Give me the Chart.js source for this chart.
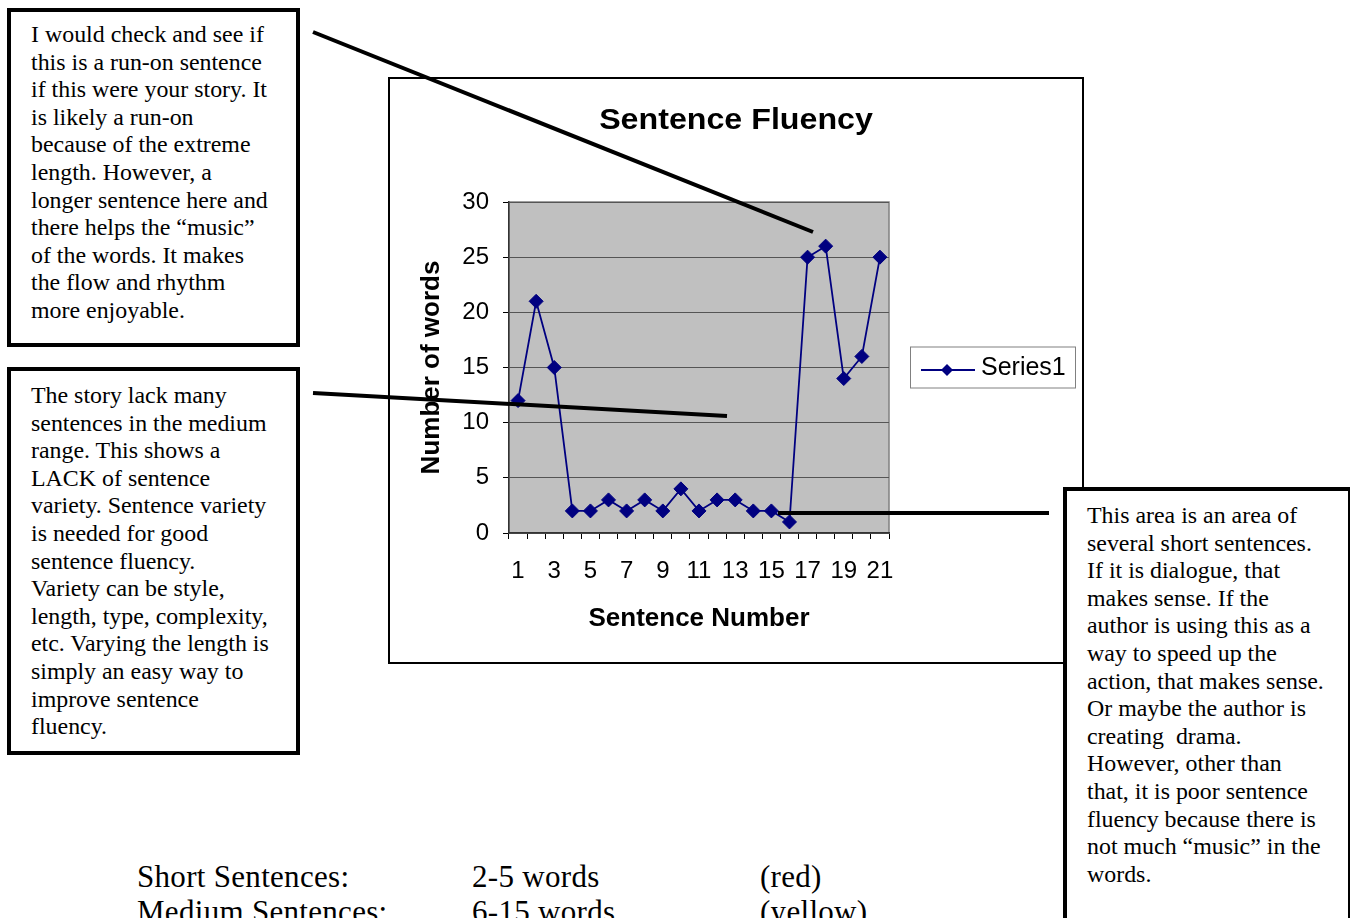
<!DOCTYPE html>
<html>
<head>
<meta charset="utf-8">
<script src="https://cdn.jsdelivr.net/npm/chart.js@4.4.1/dist/chart.umd.min.js"></script>
<style>
html,body{margin:0;padding:0;background:#fff;}
body{width:1351px;height:918px;overflow:hidden;position:relative;font-family:"Liberation Serif","Times New Roman",serif;color:#000;}
#chartBorder{position:absolute;left:388px;top:77px;width:696px;height:587px;box-sizing:border-box;border:2px solid #000;background:#fff;}
#chartWrap{position:absolute;left:389px;top:78px;width:694px;height:585px;}
.note{position:absolute;background:#fff;box-sizing:border-box;border:4px solid #000;font-size:23.9px;line-height:27.6px;white-space:nowrap;}
#note1{left:7px;top:8px;width:293px;height:339px;padding:9px 0 0 20px;}
#note2{left:7px;top:367px;width:293px;height:388px;padding:11px 0 0 20px;}
#note3{left:1063px;top:487px;width:287px;height:460px;padding:11px 0 0 20px;border-right-width:2px;}
#lines{position:absolute;left:0;top:0;width:1351px;height:918px;pointer-events:none;}
.legendRow{position:absolute;font-size:31px;line-height:35px;letter-spacing:0.3px;white-space:nowrap;}
</style>
</head>
<body>
<div id="chartBorder"></div>
<div id="chartWrap"><canvas id="c"></canvas></div>

<div class="note" id="note1">I would check and see if<br>this is a run-on sentence<br>if this were your story. It<br>is likely a run-on<br>because of the extreme<br>length. However, a<br>longer sentence here and<br>there helps the “music”<br>of the words. It makes<br>the flow and rhythm<br>more enjoyable.</div>

<div class="note" id="note2">The story lack many<br>sentences in the medium<br>range. This shows a<br>LACK of sentence<br>variety. Sentence variety<br>is needed for good<br>sentence fluency.<br>Variety can be style,<br>length, type, complexity,<br>etc. Varying the length is<br>simply an easy way to<br>improve sentence<br>fluency.</div>

<div class="note" id="note3">This area is an area of<br>several short sentences.<br>If it is dialogue, that<br>makes sense. If the<br>author is using this as a<br>way to speed up the<br>action, that makes sense.<br>Or maybe the author is<br>creating&nbsp; drama.<br>However, other than<br>that, it is poor sentence<br>fluency because there is<br>not much “music” in the<br>words.</div>

<div class="legendRow" style="left:137px;top:859px;">Short Sentences:</div>
<div class="legendRow" style="left:472px;top:859px;">2-5 words</div>
<div class="legendRow" style="left:760px;top:859px;">(red)</div>
<div class="legendRow" style="left:137px;top:894px;">Medium Sentences:</div>
<div class="legendRow" style="left:472px;top:894px;">6-15 words</div>
<div class="legendRow" style="left:760px;top:894px;">(yellow)</div>

<svg id="lines" width="1351" height="918">
  <line x1="313" y1="32" x2="813" y2="232" stroke="#000" stroke-width="4"/>
  <line x1="313" y1="393" x2="727" y2="416" stroke="#000" stroke-width="4"/>
  <line x1="778" y1="513" x2="1049" y2="513" stroke="#000" stroke-width="4"/>
</svg>

<script>
// ---- data ----
const sentenceNumbers = ['1','2','3','4','5','6','7','8','9','10','11','12','13','14','15','16','17','18','19','20','21'];
const wordCounts = [12,21,15,2,2,3,2,3,2,4,2,3,3,2,2,1,25,26,14,16,25];
const yTickMin = 0;
const yTickMax = 30;
const yTickStep = 5;
const seriesName = 'Series1';
const chartTitle = 'Sentence Fluency';
const xAxisTitle = 'Sentence Number';
const yAxisTitle = 'Number of words';

const SANS = '"Liberation Sans", Arial, sans-serif';
const NAVY = '#000080';

const plotBg = {
  id: 'plotBg',
  beforeDraw(chart) {
    const {ctx, chartArea: a} = chart;
    ctx.save();
    ctx.fillStyle = '#C0C0C0';
    ctx.fillRect(a.left, a.top, a.right - a.left, a.bottom - a.top);
    ctx.strokeStyle = '#808080';
    ctx.lineWidth = 1.5;
    ctx.strokeRect(a.left, a.top, a.right - a.left, a.bottom - a.top);
    ctx.restore();
  }
};

const centeredTitle = {
  id: 'centeredTitle',
  afterDraw(chart, args, opts) {
    const ctx = chart.ctx;
    ctx.save();
    ctx.fillStyle = '#000';
    ctx.font = 'bold 29px ' + SANS;
    ctx.textAlign = 'center';
    ctx.textBaseline = 'middle';
    ctx.translate(chart.width / 2, 43);
    ctx.scale(1.11, 1);
    ctx.fillText(opts.text, 0, 0);
    ctx.restore();
  }
};

const boxLegend = {
  id: 'boxLegend',
  afterDraw(chart) {
    const {ctx, chartArea: a} = chart;
    const ds = chart.data.datasets[0];
    const left = a.right + 21, w = 165, h = 41;
    const cy = (a.top + a.bottom) / 2 - 0.5;
    const top = cy - h / 2;
    ctx.save();
    ctx.fillStyle = '#fff';
    ctx.fillRect(left, top, w, h);
    ctx.strokeStyle = '#808080';
    ctx.lineWidth = 1;
    ctx.strokeRect(left + 0.5, top + 0.5, w, h);
    ctx.strokeStyle = ds.borderColor;
    ctx.lineWidth = 2;
    ctx.beginPath();
    ctx.moveTo(left + 11, cy + 3);
    ctx.lineTo(left + 65, cy + 3);
    ctx.stroke();
    ctx.fillStyle = ds.borderColor;
    ctx.beginPath();
    ctx.moveTo(left + 37, cy - 3); ctx.lineTo(left + 43, cy + 3); ctx.lineTo(left + 37, cy + 9); ctx.lineTo(left + 31, cy + 3); ctx.closePath();
    ctx.fill();
    ctx.fillStyle = '#000';
    ctx.font = '25px ' + SANS;
    ctx.textBaseline = 'middle';
    ctx.textAlign = 'left';
    ctx.fillText(ds.label, left + 71, cy + 1);
    ctx.restore();
  }
};

new Chart(document.getElementById('c'), {
  type: 'line',
  data: {
    labels: sentenceNumbers,
    datasets: [{
      label: seriesName,
      data: wordCounts,
      borderColor: NAVY,
      backgroundColor: NAVY,
      borderWidth: 1.8,
      pointStyle: 'rectRot',
      pointRadius: 7,
      pointBackgroundColor: NAVY,
      pointBorderColor: NAVY,
      pointBorderWidth: 1,
      tension: 0,
      clip: false
    }]
  },
  options: {
    responsive: true,
    maintainAspectRatio: false,
    animation: false,
    devicePixelRatio: 1,
    layout: {padding: {left: 20, right: 194, top: 124, bottom: 20}},
    plugins: {
      legend: {display: false},
      tooltip: {enabled: false},
      title: {display: false},
      centeredTitle: {text: chartTitle}
    },
    scales: {
      x: {
        type: 'category',
        offset: true,
        grid: {offset: true, drawOnChartArea: false, drawTicks: true, tickLength: 6, tickColor: '#000', tickWidth: 1},
        border: {display: true, color: '#333', width: 1.5},
        ticks: {
          autoSkip: false, maxRotation: 0, minRotation: 0,
          color: '#000', padding: 18,
          font: {family: SANS, size: 24},
          callback: (v, i) => (i % 2 === 0 ? sentenceNumbers[i] : '')
        },
        title: {display: true, text: xAxisTitle, color: '#000', font: {family: SANS, size: 26, weight: 'bold'}, padding: 9},
        afterFit: s => { s.height = 110; }
      },
      y: {
        min: yTickMin, max: yTickMax,
        grid: {color: '#555', lineWidth: 1, drawTicks: true, tickLength: 6, tickColor: '#000'},
        border: {display: true, color: '#333', width: 1.5},
        ticks: {stepSize: yTickStep, color: '#000', padding: 14, font: {family: SANS, size: 24}},
        title: {display: true, text: yAxisTitle, color: '#000', font: {family: SANS, size: 26, weight: 'bold'}, padding: 7},
        afterFit: s => { s.width = 100; }
      }
    }
  },
  plugins: [plotBg, centeredTitle, boxLegend]
});
</script>
</body>
</html>
